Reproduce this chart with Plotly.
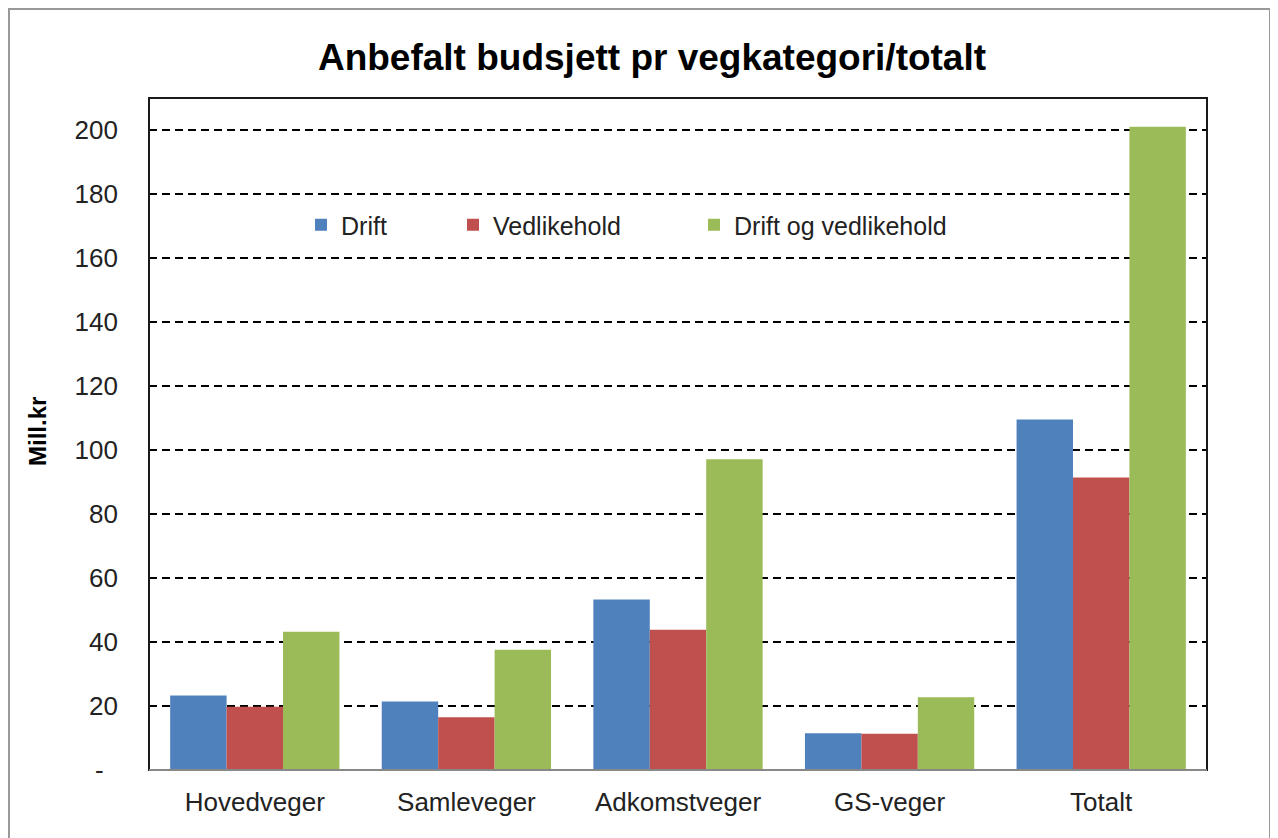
import plotly.graph_objects as go

categories = ["Hovedveger", "Samleveger", "Adkomstveger", "GS-veger", "Totalt"]
drift = [23.3, 21.4, 53.3, 11.5, 109.5]
vedlikehold = [19.8, 16.5, 43.8, 11.3, 91.4]
drift_og_vedlikehold = [43.2, 37.6, 97.1, 22.7, 201.0]
series_names = ["Drift", "Vedlikehold", "Drift og vedlikehold"]
series_colors = ["#4F81BD", "#C0504D", "#9BBB59"]
tick_vals = [0, 20, 40, 60, 80, 100, 120, 140, 160, 180, 200]
tick_text = ["-\u00a0\u00a0", "20", "40", "60", "80", "100", "120", "140", "160", "180", "200"]

FONT = "Liberation Sans, Arial, sans-serif"
W, H = 1278, 838
OFF = 8  # page body margin in the browser
# plot area in screen pixels
SL, SR, ST, SB = 149, 1207, 98, 770
L, R, T, B = SL - OFF, SR - OFF, ST - OFF, SB - OFF
PW, PH = R - L, B - T


def px(sx):
    return (sx - SL) / PW


def py(sy):
    return (SB - sy) / PH


fig = go.Figure()
legend_ids = ["legend", "legend2", "legend3"]
for name, vals, col, lg in zip(series_names, [drift, vedlikehold, drift_og_vedlikehold], series_colors, legend_ids):
    fig.add_trace(go.Bar(x=categories, y=vals, name=name, marker=dict(color=col, line=dict(width=0)),
                         legend=lg, showlegend=True))

legend_common = dict(orientation="h", xref="container", yref="container", xanchor="left", yanchor="middle",
                     font=dict(family=FONT, size=25, color="#222222"), bgcolor="rgba(0,0,0,0)",
                     itemwidth=30, tracegroupgap=0, visible=True)
LEG_Y = 1 - 217 / H
fig.update_layout(
    width=W, height=H, showlegend=True,
    paper_bgcolor="white", plot_bgcolor="white",
    margin=dict(l=L, r=W - R, t=T, b=H - B, autoexpand=False),
    barmode="group", bargap=0.2, bargroupgap=0,
    title=dict(text="<b>Anbefalt budsjett pr vegkategori/totalt</b>", x=(652 - OFF) / W, xanchor="center",
               y=1 - (57 - OFF) / H, yanchor="middle", font=dict(family=FONT, size=37, color="#000000")),
    legend=dict(x=293 / W, y=LEG_Y, **legend_common),
    legend2=dict(x=445 / W, y=LEG_Y, **legend_common),
    legend3=dict(x=686 / W, y=LEG_Y, **legend_common),
    xaxis=dict(showgrid=False, showline=False, ticks="", tickfont=dict(family=FONT, size=26, color="#222222"),
               ticklabelstandoff=14),
    yaxis=dict(range=[0, 200 * PH / 640], tickvals=tick_vals, ticktext=tick_text,
               showgrid=True, gridcolor="#000000", gridwidth=1.5, griddash="8px,5px",
               showline=False, ticks="", zeroline=False,
               tickfont=dict(family=FONT, size=26, color="#222222"), ticklabelstandoff=30),
    annotations=[
        dict(text="<b>Mill.kr</b>", textangle=-90, xref="paper", yref="paper", x=px(37), y=py(432),
             xanchor="center", yanchor="middle", showarrow=False,
             font=dict(family=FONT, size=24, color="#000000")),
    ],
    shapes=[
        dict(type="rect", xref="paper", yref="paper", x0=0, x1=1, y0=0, y1=1,
             line=dict(color="#1a1a1a", width=2), fillcolor="rgba(0,0,0,0)", layer="above"),
        dict(type="line", xref="paper", yref="paper", x0=0, x1=1, y0=0, y1=0,
             line=dict(color="#888888", width=2), layer="above"),
        dict(type="rect", xref="paper", yref="paper", x0=px(9), x1=px(1270), y0=py(850), y1=py(9),
             line=dict(color="#999999", width=2), fillcolor="rgba(0,0,0,0)", layer="below"),
    ],
)
fig.write_html("out.html")
